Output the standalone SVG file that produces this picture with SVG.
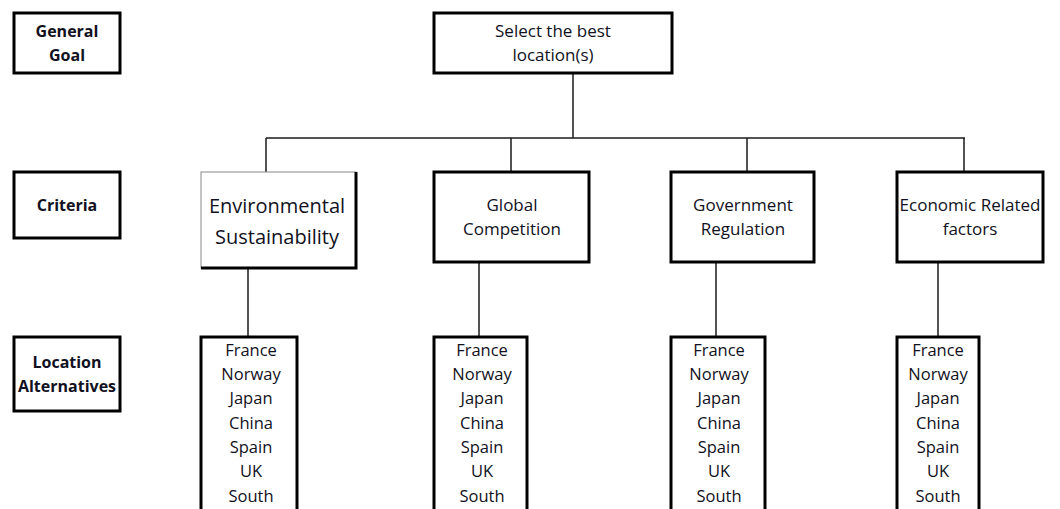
<svg xmlns="http://www.w3.org/2000/svg" width="1060" height="509" viewBox="0 0 1060 509">
  <style>
    .box { fill: #ffffff; stroke: #000000; stroke-width: 3; }
    .wire { stroke: #1a1a1a; stroke-width: 1.5; fill: none; }
    text { font-family: "Open Sans", "Noto Sans", sans-serif; fill: #111122; text-anchor: middle; }
    .lbl { font-size: 16px; font-weight: bold; }
    .crit { font-size: 17px; }
    .big { font-size: 20px; }
    .alt { font-size: 16.5px; }
  </style>
  <rect width="1060" height="509" fill="#ffffff"/>

  <g id="connectors">
    <line class="wire" x1="573" y1="73" x2="573" y2="138"/>
    <line class="wire" x1="266" y1="138" x2="965" y2="138"/>
    <line class="wire" x1="266" y1="138" x2="266" y2="172"/>
    <line class="wire" x1="511" y1="138" x2="511" y2="172"/>
    <line class="wire" x1="747" y1="138" x2="747" y2="172"/>
    <line class="wire" x1="964" y1="138" x2="964" y2="172"/>
    <line class="wire" x1="248" y1="268" x2="248" y2="337"/>
    <line class="wire" x1="479" y1="262" x2="479" y2="337"/>
    <line class="wire" x1="716" y1="262" x2="716" y2="337"/>
    <line class="wire" x1="938" y1="262" x2="938" y2="337"/>
  </g>

  <g id="level-general-goal">
    <rect class="box" x="14" y="13" width="106" height="60"/>
    <text class="lbl" x="67" y="37">General</text>
    <text class="lbl" x="67" y="61">Goal</text>
  </g>
  <g id="level-criteria">
    <rect class="box" x="14" y="172" width="106" height="66"/>
    <text class="lbl" x="67" y="211">Criteria</text>
  </g>
  <g id="level-alternatives">
    <rect class="box" x="14" y="337" width="106" height="74"/>
    <text class="lbl" x="67" y="368">Location</text>
    <text class="lbl" x="67" y="392">Alternatives</text>
  </g>

  <g id="goal">
    <rect class="box" x="434" y="13" width="238" height="60"/>
    <text class="crit" x="553" y="37">Select the best</text>
    <text class="crit" x="553" y="61">location(s)</text>
  </g>

  <g id="crit-environmental">
    <rect x="201" y="172" width="155" height="96" fill="#ffffff" stroke="#888888" stroke-width="1"/>
    <polyline points="356,172 356,268 201,268" fill="none" stroke="#000000" stroke-width="3"/>
    <text class="big" x="277" y="213">Environmental</text>
    <text class="big" x="277" y="244">Sustainability</text>
  </g>
  <g id="crit-global">
    <rect class="box" x="434" y="172" width="155" height="90"/>
    <text class="crit" x="512" y="211">Global</text>
    <text class="crit" x="512" y="235">Competition</text>
  </g>
  <g id="crit-government">
    <rect class="box" x="671" y="172" width="143" height="90"/>
    <text class="crit" x="743" y="211">Government</text>
    <text class="crit" x="743" y="235">Regulation</text>
  </g>
  <g id="crit-economic">
    <rect class="box" x="897" y="172" width="146" height="90"/>
    <text class="crit" x="970" y="211">Economic Related</text>
    <text class="crit" x="970" y="235">factors</text>
  </g>

  <defs>
    <g id="alt-list">
      <text class="alt" x="0" y="356">France</text>
      <text class="alt" x="0" y="380">Norway</text>
      <text class="alt" x="0" y="404">Japan</text>
      <text class="alt" x="0" y="429">China</text>
      <text class="alt" x="0" y="453">Spain</text>
      <text class="alt" x="0" y="477">UK</text>
      <text class="alt" x="0" y="502">South</text>
    </g>
  </defs>

  <g id="alts-environmental">
    <rect class="box" x="201" y="337" width="96" height="180"/>
    <use href="#alt-list" x="251"/>
  </g>
  <g id="alts-global">
    <rect class="box" x="434" y="337" width="93" height="180"/>
    <use href="#alt-list" x="482"/>
  </g>
  <g id="alts-government">
    <rect class="box" x="671" y="337" width="94" height="180"/>
    <use href="#alt-list" x="719"/>
  </g>
  <g id="alts-economic">
    <rect class="box" x="897" y="337" width="82" height="180"/>
    <use href="#alt-list" x="938"/>
  </g>
</svg>
